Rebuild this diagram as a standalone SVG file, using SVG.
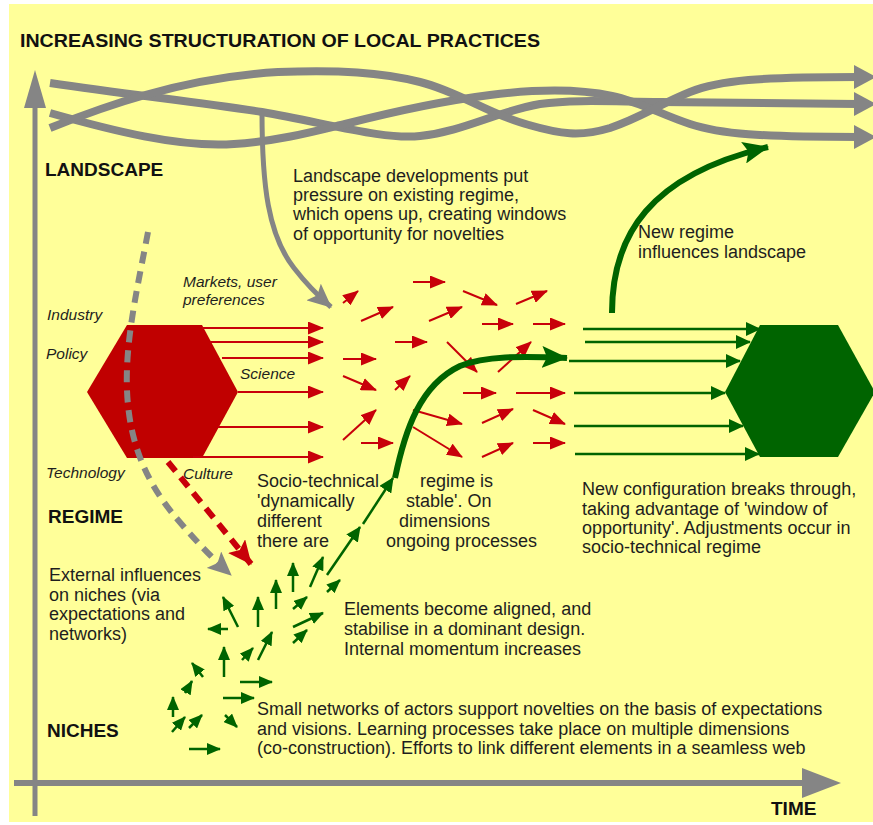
<svg xmlns="http://www.w3.org/2000/svg" width="873" height="825" viewBox="0 0 873 825">
<defs>
<style>
.t{font-family:"Liberation Sans",Arial,sans-serif;font-size:18px;fill:#1e1e1e}
.i{font-family:"Liberation Sans",Arial,sans-serif;font-size:15.5px;font-style:italic;fill:#1e1e1e}
.h{font-family:"Liberation Sans",Arial,sans-serif;font-size:19px;font-weight:bold;fill:#111}
.gray{fill:none;stroke:#858585;stroke-width:8}
.red{fill:none;stroke:#c8000a;stroke-width:2}
.grn{fill:none;stroke:#006400;stroke-width:2.5}
</style>
<marker id="mr" markerUnits="userSpaceOnUse" markerWidth="16" markerHeight="13" refX="15" refY="6.5" orient="auto"><path d="M0,0 L16,6.5 L0,13 Z" fill="#c8000a"/></marker>
<marker id="mg" markerUnits="userSpaceOnUse" markerWidth="14" markerHeight="12" refX="13" refY="6" orient="auto"><path d="M0,0 L14,6 L0,12 Z" fill="#006400"/></marker>
<marker id="mgh" markerUnits="userSpaceOnUse" markerWidth="15" markerHeight="14" refX="14" refY="7" orient="auto"><path d="M0,0 L15,7 L0,14 Z" fill="#006400"/></marker>
<marker id="mgb" markerUnits="userSpaceOnUse" markerWidth="26" markerHeight="22" refX="25" refY="11" orient="auto"><path d="M0,0 L26,11 L0,22 L5,11 Z" fill="#006400"/></marker>
<marker id="mgray" markerUnits="userSpaceOnUse" markerWidth="24" markerHeight="22" refX="23" refY="11" orient="auto"><path d="M0,0 L24,11 L0,22 L5,11 Z" fill="#858585"/></marker>
<marker id="mred" markerUnits="userSpaceOnUse" markerWidth="24" markerHeight="22" refX="23" refY="11" orient="auto"><path d="M0,0 L24,11 L0,22 L5,11 Z" fill="#c8000a"/></marker>
</defs>
<rect x="0" y="0" width="873" height="825" fill="#ffffff"/>
<rect x="9" y="4" width="864" height="818" fill="#ffff99"/>

<g id="axes">
<line x1="35" y1="816" x2="35" y2="100" stroke="#858585" stroke-width="5"/>
<polygon points="35,70 24,108 46,108" fill="#858585"/>
<line x1="14" y1="783" x2="808" y2="783" stroke="#858585" stroke-width="6"/>
<polygon points="841,783 802,768 802,798" fill="#858585"/>
</g>

<g id="landscape-trends">
<path class="gray" d="M50,83 C130,95 200,102 262,112 C330,124 385,140 420,136 C465,131 495,112 540,104 C575,99 620,102 660,102 L858,104"/>
<path class="gray" d="M50,113 C110,130 180,148 234,144 C280,141 320,130 345,124 C400,110 450,100 490,95 C530,90 575,88 612,96 C640,102 660,114 690,124 C720,134 760,137 858,137"/>
<path class="gray" d="M50,128 C100,108 180,78 278,72 C340,70 380,72 420,82 C460,92 490,115 529,125 C560,134 580,137 610,128 C640,118 660,104 690,92 C720,80 760,77 858,77"/>
<polygon points="854,65 876,77 854,89" fill="#858585"/>
<polygon points="854,92 876,104 854,116" fill="#858585"/>
<polygon points="854,125 876,137 854,149" fill="#858585"/>
</g>

<g id="regime-hexagon"><polygon points="127,325 202,325 238,392 202,458 127,458 87,392" fill="#c00000"/></g>
<g id="new-regime-hexagon"><polygon points="760,325 838,325 875,392 838,457 760,457 725,392" fill="#006400"/></g>

<g id="connectors">
<path d="M262,112 C262,185 268,235 294,268 C304,281 316,294 331,307" fill="none" stroke="#858585" stroke-width="5" marker-end="url(#mgray)"/>
<path d="M148,232 C138,285 125,340 127,390 C129,445 148,485 178,520 C195,540 212,558 231,575" fill="none" stroke="#858585" stroke-width="6" stroke-dasharray="12 8" marker-end="url(#mgray)"/>
<path d="M168,462 C195,495 222,528 251,564" fill="none" stroke="#c8000a" stroke-width="6" stroke-dasharray="12 8" marker-end="url(#mred)"/>

<g class="red" marker-end="url(#mr)">
<line x1="202" y1="328" x2="323" y2="328"/>
<line x1="210" y1="342" x2="323" y2="342"/>
<line x1="222" y1="358" x2="323" y2="358"/>
<line x1="238" y1="392" x2="323" y2="392"/>
<line x1="218" y1="427" x2="323" y2="427"/>
<line x1="193" y1="457" x2="323" y2="457"/>
<line x1="343" y1="303" x2="358" y2="291"/>
<line x1="413" y1="282" x2="445" y2="282"/>
<line x1="463" y1="291" x2="497" y2="305"/>
<line x1="516" y1="304" x2="547" y2="291"/>
<line x1="361" y1="321" x2="393" y2="307"/>
<line x1="429" y1="321" x2="462" y2="307"/>
<line x1="482" y1="324" x2="513" y2="324"/>
<line x1="533" y1="324" x2="565" y2="324"/>
<line x1="395" y1="342" x2="427" y2="342"/>
<line x1="447" y1="342" x2="477" y2="372"/>
<line x1="498" y1="372" x2="531" y2="342"/>
<line x1="343" y1="359" x2="376" y2="359"/>
<line x1="343" y1="376" x2="376" y2="390"/>
<line x1="395" y1="390" x2="410" y2="376"/>
<line x1="463" y1="393" x2="496" y2="393"/>
<line x1="516" y1="393" x2="565" y2="393"/>
<line x1="343" y1="440" x2="376" y2="410"/>
<line x1="413" y1="410" x2="462" y2="424"/>
<line x1="482" y1="423" x2="513" y2="409"/>
<line x1="533" y1="410" x2="565" y2="424"/>
<line x1="361" y1="443" x2="393" y2="443"/>
<line x1="413" y1="427" x2="462" y2="457"/>
<line x1="482" y1="457" x2="513" y2="443"/>
<line x1="533" y1="443" x2="565" y2="443"/>
</g>

<g class="grn" stroke-width="3" marker-end="url(#mgh)">
<line x1="583" y1="329" x2="760" y2="329"/>
<line x1="585" y1="342" x2="750" y2="342"/>
<line x1="569" y1="361" x2="740" y2="361"/>
<line x1="574" y1="393" x2="725" y2="393"/>
<line x1="574" y1="426" x2="743" y2="426"/>
<line x1="575" y1="454" x2="759" y2="454"/>
</g>

<g class="grn" marker-end="url(#mg)">
<line x1="293" y1="592" x2="293" y2="563"/>
<line x1="310" y1="587" x2="323" y2="557"/>
<line x1="276" y1="609" x2="276" y2="580"/>
<line x1="293" y1="609" x2="307" y2="597"/>
<line x1="327" y1="592" x2="340" y2="580"/>
<line x1="238" y1="627" x2="223" y2="597"/>
<line x1="258" y1="627" x2="258" y2="597"/>
<line x1="228" y1="629" x2="208" y2="629"/>
<line x1="293" y1="627" x2="323" y2="613"/>
<line x1="293" y1="643" x2="307" y2="630"/>
<line x1="258" y1="660" x2="272" y2="632"/>
<line x1="242" y1="660" x2="253" y2="648"/>
<line x1="224" y1="677" x2="224" y2="647"/>
<line x1="203" y1="677" x2="192" y2="663"/>
<line x1="185" y1="693" x2="192" y2="681"/>
<line x1="240" y1="682" x2="272" y2="682"/>
<line x1="223" y1="698" x2="254" y2="698"/>
<line x1="173" y1="717" x2="173" y2="697"/>
<line x1="172" y1="732" x2="185" y2="717"/>
<line x1="189" y1="728" x2="202" y2="715"/>
<line x1="225" y1="715" x2="237" y2="727"/>
<line x1="189" y1="749" x2="220" y2="749"/>
</g>

<g class="grn" stroke-width="3" marker-end="url(#mgh)">
<line x1="327" y1="575" x2="360" y2="527"/>
<line x1="363" y1="524" x2="393" y2="478"/>
</g>
<path d="M395,478 C405,430 420,385 460,366 C485,356 520,356 567,358" fill="none" stroke="#006400" stroke-width="6" marker-end="url(#mgb)"/>
<path d="M612,313 C612,235 650,175 768,147" fill="none" stroke="#006400" stroke-width="6" marker-end="url(#mgb)"/>
</g>

<g id="labels">
<text class="h" x="20" y="47" font-size="18" textLength="520" lengthAdjust="spacingAndGlyphs">INCREASING STRUCTURATION OF LOCAL PRACTICES</text>
<text class="h" x="45" y="176">LANDSCAPE</text>
<text class="h" x="48" y="523">REGIME</text>
<text class="h" x="47" y="737">NICHES</text>
<text class="h" x="771" y="815">TIME</text>

<text class="i" x="183" y="287">Markets, user</text>
<text class="i" x="183" y="305">preferences</text>
<text class="i" x="47" y="320">Industry</text>
<text class="i" x="46" y="359">Policy</text>
<text class="i" x="240" y="379">Science</text>
<text class="i" x="46" y="478">Technology</text>
<text class="i" x="183" y="479">Culture</text>

<text class="t" x="293" y="182">Landscape developments put</text>
<text class="t" x="293" y="201">pressure on existing regime,</text>
<text class="t" x="293" y="220">which opens up, creating windows</text>
<text class="t" x="293" y="240">of opportunity for novelties</text>

<text class="t" x="638" y="238">New regime</text>
<text class="t" x="638" y="258">influences landscape</text>

<text class="t" x="257" y="487">Socio-technical</text>
<text class="t" x="257" y="507">'dynamically</text>
<text class="t" x="257" y="527">different</text>
<text class="t" x="257" y="547">there are</text>
<text class="t" x="420" y="487">regime is</text>
<text class="t" x="406" y="507">stable'. On</text>
<text class="t" x="399" y="527">dimensions</text>
<text class="t" x="386" y="547">ongoing processes</text>

<text class="t" x="582" y="495">New configuration breaks through,</text>
<text class="t" x="582" y="515">taking advantage of 'window of</text>
<text class="t" x="582" y="534">opportunity'. Adjustments occur in</text>
<text class="t" x="582" y="553">socio-technical regime</text>

<text class="t" x="49" y="581">External influences</text>
<text class="t" x="49" y="601">on niches (via</text>
<text class="t" x="49" y="620">expectations and</text>
<text class="t" x="49" y="640">networks)</text>

<text class="t" x="344" y="615">Elements become aligned, and</text>
<text class="t" x="344" y="635">stabilise in a dominant design.</text>
<text class="t" x="344" y="655">Internal momentum increases</text>

<text class="t" x="257" y="715">Small networks of actors support novelties on the basis of expectations</text>
<text class="t" x="257" y="735">and visions. Learning processes take place on multiple dimensions</text>
<text class="t" x="257" y="754">(co-construction). Efforts to link different elements in a seamless web</text>
</g>
</svg>
